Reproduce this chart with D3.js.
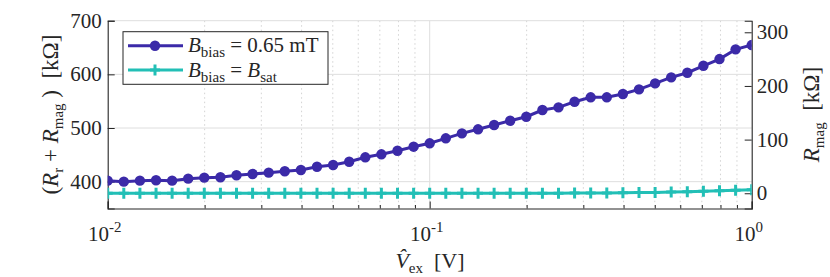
<!DOCTYPE html>
<html>
<head>
<meta charset="utf-8">
<script src="https://cdn.jsdelivr.net/npm/d3@7"></script>
<style>
  body { margin: 0; background: #fff; }
</style>
</head>
<body>
<div id="chart"></div>
<script>
// excitation amplitude [V]
const vex = [0.01, 0.01122, 0.01259, 0.01413, 0.01585, 0.01778, 0.01995, 0.02239, 0.02512, 0.02818,
    0.03162, 0.03548, 0.03981, 0.04467, 0.05012, 0.05623, 0.0631, 0.07079, 0.07943, 0.08913,
    0.1, 0.1122, 0.1259, 0.1413, 0.1585, 0.1778, 0.1995, 0.2239, 0.2512, 0.2818,
    0.3162, 0.3548, 0.3981, 0.4467, 0.5012, 0.5623, 0.631, 0.7079, 0.7943, 0.8913, 1];

// R_mag [kOhm], bias 0.65 mT
const rmagBias = [23.5, 21.6, 23.5, 24.2, 23.5, 27.2, 29.1, 29.8, 33.5, 35.9,
    38.4, 41.0, 43.4, 49.5, 52.7, 58.8, 67.0, 72.6, 79.3, 86.8,
    93.1, 102.4, 111.7, 119.2, 127.2, 135.2, 142.6, 155.1, 160.1, 170.6,
    178.8, 178.8, 184.9, 193.7, 204.8, 216.0, 224.6, 237.6, 250.1, 268.2, 276.2];

// R_mag [kOhm], bias = saturation
const rmagSat = [0, 0, 0, 0, 0, 0, 0, 0, 0, 0,
    0, 0, 0, 0, 0, 0, 0, 0, 0, 0,
    0, 0, 0, 0, 0, 0, 0, 0, 0.2, 0.3,
    0.5, 0.6, 0.8, 1.2, 1.6, 2.2, 3.0, 3.8, 4.8, 5.6, 6.5];

const rR = 378.4; // series resistance, offset between left and right axes
const leftTicks = [400, 500, 600, 700];
const rightTicks = [0, 100, 200, 300];
const xTicks = [0.01, 0.1, 1];
const xTickExp = ["-2", "-1", "0"];

const W = 830, H = 277;
const pL = 107.7, pR = 751.7, pT = 20.7, pB = 208.5;
const purple = "#3b2aa8", teal = "#22bfb6", axisCol = "#262626";
const serif = "'Liberation Serif'";

let svg = d3.select("#chart")
    .append("svg")
    .attr("width", W)
    .attr("height", H);

let x = d3.scaleLog().domain([0.01, 1]).range([pL, pR]);
let yL = d3.scaleLinear().domain([350, 700]).range([pB, pT]);
let yR = d3.scaleLinear().domain([350 - rR, 700 - rR]).range([pB, pT]);

// minor grid (dotted)
let minors = [];
[0.01, 0.1].forEach(function (dec) {
    for (let k = 2; k <= 9; k++) minors.push(dec * k);
});
svg.append("g")
    .selectAll("line")
    .data(minors)
    .enter()
    .append("line")
    .attr("x1", function (d) { return x(d); })
    .attr("x2", function (d) { return x(d); })
    .attr("y1", pT)
    .attr("y2", pB)
    .attr("stroke", "#c8c8c8")
    .attr("stroke-width", 0.8)
    .attr("stroke-dasharray", "1.5,3");

// major grid
svg.append("g")
    .selectAll("line")
    .data([0.1])
    .enter()
    .append("line")
    .attr("x1", function (d) { return x(d); })
    .attr("x2", function (d) { return x(d); })
    .attr("y1", pT)
    .attr("y2", pB)
    .attr("stroke", "#dedede")
    .attr("stroke-width", 1);

svg.append("g")
    .selectAll("line")
    .data(leftTicks)
    .enter()
    .append("line")
    .attr("x1", pL)
    .attr("x2", pR)
    .attr("y1", function (d) { return yL(d); })
    .attr("y2", function (d) { return yL(d); })
    .attr("stroke", "#dedede")
    .attr("stroke-width", 1);

// axes
svg.append("g")
    .attr("transform", "translate(0," + pB + ")")
    .call(d3.axisBottom(x).tickValues(xTicks).tickSize(-7).tickFormat(""));
svg.append("g")
    .attr("transform", "translate(0," + pB + ")")
    .call(d3.axisBottom(x).tickValues(minors).tickSize(-3.5).tickFormat(""))
    .select(".domain").remove();

svg.append("g")
    .attr("transform", "translate(" + pL + ",0)")
    .call(d3.axisLeft(yL).tickValues(leftTicks).tickSize(-7).tickFormat(""));

svg.append("g")
    .attr("transform", "translate(" + pR + ",0)")
    .call(d3.axisRight(yR).tickValues(rightTicks).tickSize(-7).tickFormat(""));

svg.selectAll(".domain").attr("stroke", axisCol).attr("stroke-width", 1.1);
svg.selectAll(".tick line").attr("stroke", axisCol).attr("stroke-width", 1);

let txt = svg.append("g")
    .style("font-family", serif)
    .attr("fill", axisCol);

// tick labels
txt.append("g")
    .selectAll("text")
    .data(leftTicks)
    .enter()
    .append("text")
    .style("font-family", serif)
    .attr("x", pL - 6)
    .attr("y", function (d) { return yL(d) + 7; })
    .attr("text-anchor", "end")
    .attr("font-size", 21)
    .text(function (d) { return d; });

txt.append("g")
    .selectAll("text")
    .data(rightTicks)
    .enter()
    .append("text")
    .style("font-family", serif)
    .attr("x", pR + 5)
    .attr("y", function (d) { return yR(d) + 7; })
    .attr("text-anchor", "start")
    .attr("font-size", 21)
    .text(function (d) { return d; });

let xt = txt.append("g")
    .selectAll("text")
    .data(xTicks)
    .enter()
    .append("text")
    .style("font-family", serif)
    .attr("x", function (d) { return x(d) - 3; })
    .attr("y", pB + 32)
    .attr("text-anchor", "middle")
    .attr("font-size", 21);
xt.append("tspan").text("10");
xt.append("tspan")
    .attr("dy", -9)
    .attr("font-size", 15)
    .text(function (d, i) { return xTickExp[i]; });

// axis labels
function sub(t, main, s, rest) {
    t.append("tspan").attr("font-style", "italic").text(main);
    t.append("tspan").attr("font-size", 15).attr("dy", 5).text(s);
    if (rest !== undefined) t.append("tspan").attr("dy", -5).text(rest);
}

let xl = txt.append("text")
    .style("font-family", serif)
    .attr("x", 430)
    .attr("y", 268)
    .attr("text-anchor", "middle")
    .attr("font-size", 22)
    .attr("xml:space", "preserve");
sub(xl, "V\u0302", "ex", "  [V]");

let ylab = txt.append("text")
    .style("font-family", serif)
    .attr("transform", "translate(58," + ((pT + pB) / 2) + ") rotate(-90)")
    .attr("text-anchor", "middle")
    .attr("font-size", 23)
    .attr("xml:space", "preserve");
ylab.append("tspan").text("(");
sub(ylab, "R", "r", " + ");
sub(ylab, "R", "mag", " )  [k\u03A9]");

let yrlab = txt.append("text")
    .style("font-family", serif)
    .attr("transform", "translate(819," + ((pT + pB) / 2) + ") rotate(-90)")
    .attr("text-anchor", "middle")
    .attr("font-size", 23)
    .attr("xml:space", "preserve");
sub(yrlab, "R", "mag", "  [k\u03A9]");

// data
svg.append("clipPath").attr("id", "clip")
    .append("rect")
    .attr("x", pL).attr("y", 0)
    .attr("width", pR - pL).attr("height", pB);

let plot = svg.append("g").attr("clip-path", "url(#clip)");

let line = d3.line()
    .x(function (d, i) { return x(vex[i]); })
    .y(function (d) { return yR(d); });

plot.append("path")
    .datum(rmagSat)
    .attr("fill", "none")
    .attr("stroke", teal)
    .attr("stroke-width", 3)
    .attr("d", line);

plot.append("g")
    .selectAll("path")
    .data(rmagSat)
    .enter()
    .append("path")
    .attr("transform", function (d, i) { return "translate(" + x(vex[i]) + "," + yR(d) + ")"; })
    .attr("d", "M-5,0H5M0,-5.5V5.5")
    .attr("stroke", teal)
    .attr("stroke-width", 3);

plot.append("path")
    .datum(rmagBias)
    .attr("fill", "none")
    .attr("stroke", purple)
    .attr("stroke-width", 3)
    .attr("d", line);

plot.append("g")
    .selectAll("circle")
    .data(rmagBias)
    .enter()
    .append("circle")
    .attr("cx", function (d, i) { return x(vex[i]); })
    .attr("cy", function (d) { return yR(d); })
    .attr("r", 5.2)
    .attr("fill", purple);

// legend
let lg = svg.append("g");
lg.append("rect")
    .attr("x", 123).attr("y", 31.7)
    .attr("width", 205).attr("height", 52.6)
    .attr("fill", "#fff")
    .attr("stroke", axisCol)
    .attr("stroke-width", 1);

let rows = [
    { c: purple, y: 45.7, s: "bias", rest: " = 0.65 mT", sat: false },
    { c: teal, y: 70, s: "bias", rest: " = ", sat: true }
];
rows.forEach(function (r, k) {
    lg.append("line")
        .attr("x1", 128).attr("x2", 183)
        .attr("y1", r.y).attr("y2", r.y)
        .attr("stroke", r.c).attr("stroke-width", 3);
    if (k === 0) {
        lg.append("circle").attr("cx", 155).attr("cy", r.y).attr("r", 5.2).attr("fill", r.c);
    } else {
        lg.append("path")
            .attr("transform", "translate(155," + r.y + ")")
            .attr("d", "M-5,0H5M0,-5.5V5.5")
            .attr("stroke", r.c).attr("stroke-width", 3);
    }
    let t = lg.append("text")
        .style("font-family", serif)
        .attr("x", 188)
        .attr("y", r.y + 6.5)
        .attr("font-size", 21)
        .attr("fill", axisCol)
        .attr("xml:space", "preserve");
    sub(t, "B", r.s, r.rest);
    if (r.sat) sub(t, "B", "sat");
});
</script>
</body>
</html>
